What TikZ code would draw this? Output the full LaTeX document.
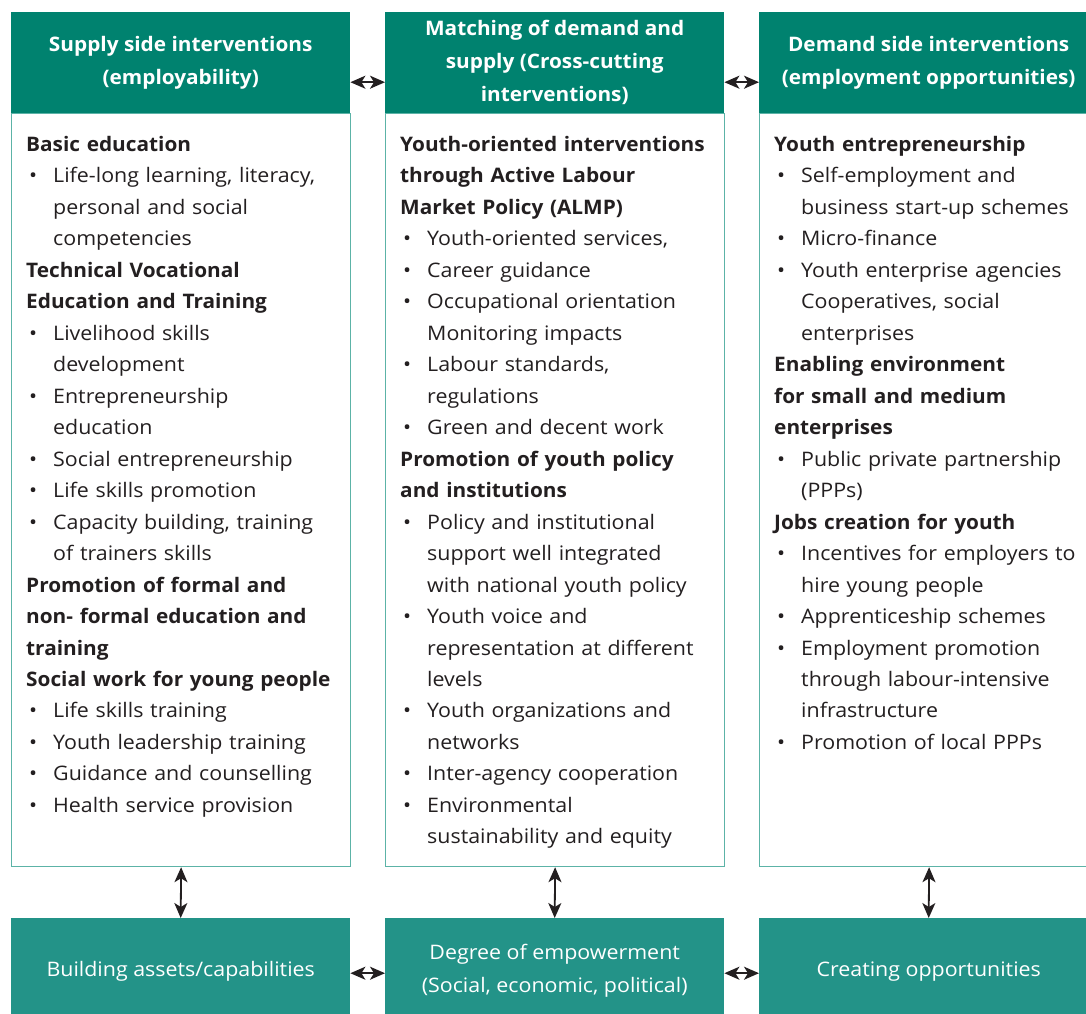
\documentclass[tikz,border=0pt]{standalone}
\usepackage{fontspec}
\setmainfont{Open Sans}[FakeStretch=1.07, BoldFeatures={FakeStretch=1.04}]
\usetikzlibrary{arrows.meta}
\definecolor{hdr}{HTML}{00826F}
\definecolor{btm}{HTML}{239388}
\definecolor{brd}{HTML}{5CB3A7}
\definecolor{ink}{HTML}{231F20}
\newcommand\hd[1]{\par\noindent\textbf{#1}}
\newcommand\itm[1]{\par\noindent\hangindent=27pt\hangafter=1\makebox[27pt][l]{\hspace{3pt}\textbullet}#1}
\tikzset{
  hdrbox/.style={fill=hdr, draw=none, minimum width=339pt, minimum height=101pt, inner sep=0pt,
    text=white, align=center, font=\fontsize{20}{33}\selectfont\bfseries},
  btmbox/.style={fill=btm, draw=none, minimum width=339pt, minimum height=106pt, inner sep=0pt,
    text=white, align=center, font=\fontsize{20}{33}\selectfont},
  contbox/.style={draw=brd, line width=1.2pt, fill=white, minimum width=339pt, minimum height=753pt, inner sep=0pt},
  coltext/.style={anchor=base west, inner sep=0pt, text width=335pt, align=left, text=ink,
    font=\fontsize{20}{31.47}\selectfont},
  dbl/.style={ink, line width=1.8pt, {Stealth[length=15pt,width=13pt,inset=4pt]}-{Stealth[length=15pt,width=13pt,inset=4pt]}}
}
\begin{document}
\begin{tikzpicture}[x=1pt,y=-1pt]
\useasboundingbox (0,0) rectangle (1086,1013);
\clip (0,0) rectangle (1086,1013);
% content boxes
\node[contbox, anchor=north west] (c1) at (11,113) {};
\node[contbox, anchor=north west] (c2) at (385,113) {};
\node[contbox, anchor=north west] (c3) at (759,113) {};
% headers
\node[hdrbox, anchor=north west] (h1) at (11,12) {Supply side interventions\\(employability)};
\node[hdrbox, anchor=north west] (h2) at (385,12) {Matching of demand and\\supply (Cross-cutting\\interventions)};
\node[hdrbox, anchor=north west] (h3) at (759,12) {Demand side interventions\\(employment opportunities)};
% bottom boxes
\node[btmbox, anchor=north west] (b1) at (11,918) {Building assets/capabilities};
\node[btmbox, anchor=north west] (b2) at (385,918) {Degree of empowerment\\(Social, economic, political)};
\node[btmbox, anchor=north west] (b3) at (759,918) {Creating opportunities};
% column texts
\node[coltext] (t1) at (26,151.5) {%
\textbf{Basic education}%
\itm{Life-long learning, literacy,\newline personal and social\newline competencies}
\hd{Technical Vocational}
\hd{Education and Training}
\itm{Livelihood skills\newline development}
\itm{Entrepreneurship\newline education}
\itm{Social entrepreneurship}
\itm{Life skills promotion}
\itm{Capacity building, training\newline of trainers skills}
\hd{Promotion of formal and}
\hd{non- formal education and}
\hd{training}
\hd{Social work for young people}
\itm{Life skills training}
\itm{Youth leadership training}
\itm{Guidance and counselling}
\itm{Health service provision}\par};
\node[coltext] (t2) at (400,151.5) {%
\textbf{Youth-oriented interventions}%
\hd{through Active Labour}
\hd{Market Policy (ALMP)}
\itm{Youth-oriented services,}
\itm{Career guidance}
\itm{Occupational orientation\newline Monitoring impacts}
\itm{Labour standards,\newline regulations}
\itm{Green and decent work}
\hd{Promotion of youth policy}
\hd{and institutions}
\itm{Policy and institutional\newline support well integrated\newline with national youth policy}
\itm{Youth voice and\newline representation at different\newline levels}
\itm{Youth organizations and\newline networks}
\itm{Inter-agency cooperation}
\itm{Environmental\newline sustainability and equity}\par};
\node[coltext] (t3) at (774,151.5) {%
\textbf{Youth entrepreneurship}%
\itm{Self-employment and\newline business start-up schemes}
\itm{Micro-finance}
\itm{Youth enterprise agencies\newline Cooperatives, social\newline enterprises}
\hd{Enabling environment}
\hd{for small and medium}
\hd{enterprises}
\itm{Public private partnership\newline (PPPs)}
\hd{Jobs creation for youth}
\itm{Incentives for employers to\newline hire young people}
\itm{Apprenticeship schemes}
\itm{Employment promotion\newline through labour-intensive\newline infrastructure}
\itm{Promotion of local PPPs}\par};
% connectors
\draw[dbl] ([yshift=-19.5pt]h1.east) -- ([yshift=-19.5pt]h2.west);
\draw[dbl] ([yshift=-19.5pt]h2.east) -- ([yshift=-19.5pt]h3.west);
\draw[dbl] ([yshift=-2pt]b1.east) -- ([yshift=-2pt]b2.west);
\draw[dbl] ([yshift=-2pt]b2.east) -- ([yshift=-2pt]b3.west);
\draw[dbl] (c1.south) -- (b1.north);
\draw[dbl] (c2.south) -- (b2.north);
\draw[dbl] (c3.south) -- (b3.north);
\end{tikzpicture}
\end{document}
